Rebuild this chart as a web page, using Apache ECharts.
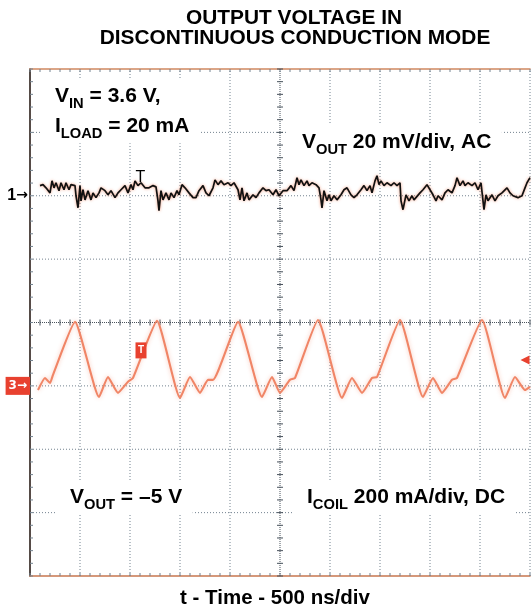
<!DOCTYPE html>
<html><head><meta charset="utf-8">
<script src="https://cdn.jsdelivr.net/npm/echarts/dist/echarts.min.js"></script>
<style>html,body{margin:0;padding:0;background:#fff}#c{width:531px;height:611px}</style>
</head><body><div id="c"></div>
<script>
// ---- data (time in ns, 500 ns/div) ----
const vOutTimeNs = [100,130,160,200,220,240,260,290,310,340,
360,390,410,450,460,480,500,510,530,550,
580,610,630,660,690,710,750,780,810,850,
880,910,950,980,1010,1030,1050,1080,1110,1150,
1190,1230,1260,1280,1290,1310,1330,1360,1390,1410,
1440,1470,1490,1520,1550,1590,1630,1660,1690,1730,
1760,1790,1830,1850,1880,1910,1940,1980,2010,2040,
2080,2100,2120,2140,2170,2190,2230,2260,2290,2330,
2360,2390,2430,2460,2490,2530,2570,2610,2640,2670,
2690,2710,2740,2770,2790,2820,2860,2890,2910,2920,
2940,2970,2990,3010,3040,3070,3110,3140,3170,3210,
3240,3270,3310,3340,3370,3400,3420,3450,3470,3490,
3510,3540,3570,3610,3640,3670,3700,3710,3730,3760,
3790,3820,3840,3900,3930,3970,4000,4030,4060,4080,
4120,4150,4180,4220,4250,4270,4300,4330,4350,4380,
4420,4450,4480,4510,4530,4540,4560,4580,4620,4650,
4680,4720,4770,4800,4830,4880,4920,4950,4970,5000];
// V_OUT, AC coupled, mV (20 mV/div)
const vOutMv = [3.2,3.5,2.5,0.9,4.7,2.5,4.1,1.6,4.1,1.9,
4.1,1.9,3.5,3.2,0,-3.8,3.2,-1.6,1.9,-1.3,
1.6,-1.3,0.9,-0.6,0.9,2.5,1.6,0.3,1.6,-0.6,
0.9,1.9,3.2,0.9,3.5,1.9,4.7,3.2,4.1,2.5,
2.5,3.2,2.8,-1.6,-4.7,1.6,-1.3,0.9,-1.3,0.9,
-0.6,1.6,0.3,3.5,2.5,0.9,-0.6,-0.6,1.6,3.2,
0.9,0,2.5,5.0,3.5,4.7,3.5,4.1,3.2,4.1,
1.9,-1.3,2.5,-1.6,0.9,-1.3,0.3,-0.6,0.9,2.5,
1.6,1.9,0.3,1.9,0,1.6,1.6,3.2,1.6,5.7,
3.5,5.0,3.2,4.7,3.2,4.1,3.5,2.5,-1.3,-3.8,
1.6,-1.6,0.3,-1.6,0,-1.3,0.3,1.9,2.5,0.3,
-0.6,0.3,1.9,3.2,1.6,3.2,0.9,4.7,6.3,3.5,
4.7,3.2,4.1,3.2,4.1,3.2,4.1,-1.6,-4.4,0.3,
-1.6,0,-1.3,0.9,1.9,3.5,1.9,0.3,-1.6,0,
-1.3,0.9,1.9,0.9,3.2,5.7,3.2,4.7,3.2,4.1,
3.2,4.1,1.9,4.1,-1.6,-4.4,0.3,-1.6,0.3,-1.6,
0,0.9,2.5,0.9,0,-0.6,0,2.5,4.1,5.7];
const iCoilTimeNs = [80,150,200,230,450,690,780,880,980,1030,
1270,1500,1600,1700,1780,1830,2080,2320,2420,2500,
2600,2650,2880,3120,3220,3320,3420,3470,3700,3930,
4030,4120,4220,4270,4520,4750,4850,4950,5000];
// I_COIL, DC coupled, mA (200 mA/div)
const iCoilMa = [-13,25,9,35,202,-35,28,-22,13,25,
205,-38,28,-22,19,19,202,-35,28,-22,
19,25,208,-38,25,-22,25,28,208,-35,
25,-22,19,25,208,-38,28,-13,-3];
const vOutAxis = {min: -120, max: 40, step: 20};
const iCoilAxis = {min: -600, max: 1000, step: 200};
const timeAxis = {min: 0, max: 5000, step: 500};
const divAxis = {min: -4, max: 4, step: 1};

const FONT = '"Liberation Sans", Arial, sans-serif';
const GRID_C = '#73828f';
const CENTER_C = '#47515b';
const RED = '#e8412f';

const vData = vOutTimeNs.map((t, i) => [t, vOutMv[i]]);
const iData = iCoilTimeNs.map((t, i) => [t, iCoilMa[i]]);

const chart = echarts.init(document.getElementById('c'), null, {renderer: 'canvas'});

function hiddenParts() {
  return {axisTick: {show: false}, minorTick: {show: false}, splitLine: {show: false}, minorSplitLine: {show: false}};
}

// graticule drawn through the axes' scales
function graticule(params, api) {
  const children = [];
  const line = (p1, p2, stroke, dash, w) => children.push({type: 'line', silent: true,
    shape: {x1: p1[0], y1: p1[1], x2: p2[0], y2: p2[1]},
    style: {stroke: stroke, lineWidth: w || 1, lineDash: dash || null}});
  const xMid = (timeAxis.min + timeAxis.max) / 2;
  const yMid = (divAxis.min + divAxis.max) / 2;
  for (let x = timeAxis.min + timeAxis.step; x < timeAxis.max + 1; x += timeAxis.step) {
    if (x === xMid) continue;
    line(api.coord([x, divAxis.min]), api.coord([x, divAxis.max]), GRID_C, [1, 2]);
  }
  for (let y = divAxis.min + divAxis.step; y < divAxis.max; y += divAxis.step) {
    if (y === yMid) continue;
    line(api.coord([timeAxis.min, y]), api.coord([timeAxis.max, y]), GRID_C, [1, 2]);
  }
  // centre cross
  line(api.coord([xMid, divAxis.min]), api.coord([xMid, divAxis.max]), CENTER_C, [1, 1]);
  line(api.coord([timeAxis.min, yMid]), api.coord([timeAxis.max, yMid]), CENTER_C, [1, 1]);
  // minor ticks (5 per division)
  const xm = timeAxis.step / 5, ym = divAxis.step / 5;
  for (let x = timeAxis.min; x <= timeAxis.max + 1e-6; x += xm) {
    const c = api.coord([x, yMid]);
    line([c[0], c[1] - 3], [c[0], c[1] + 3], CENTER_C);
    const t = api.coord([x, divAxis.max]);
    line([t[0], t[1]], [t[0], t[1] + 3], GRID_C);
    const b = api.coord([x, divAxis.min]);
    line([b[0], b[1] - 3], [b[0], b[1]], GRID_C);
  }
  for (let y = divAxis.min; y <= divAxis.max + 1e-6; y += ym) {
    const c = api.coord([xMid, y]);
    line([c[0] - 3, c[1]], [c[0] + 3, c[1]], CENTER_C);
    const l = api.coord([timeAxis.min, y]);
    line([l[0], l[1]], [l[0] + 3, l[1]], GRID_C);
  }
  return {type: 'group', children: children};
}

const option = {
  animation: false,
  backgroundColor: '#ffffff',
  grid: {left: 30, right: 1, top: 69, bottom: 35, containLabel: false},
  xAxis: [
    Object.assign({type: 'value', position: 'bottom', min: timeAxis.min, max: timeAxis.max, interval: timeAxis.step,
      axisLine: {show: true, onZero: false, lineStyle: {color: '#c8774f', width: 1.6}},
      axisLabel: {show: false}}, hiddenParts()),
    Object.assign({type: 'value', position: 'top', min: timeAxis.min, max: timeAxis.max, interval: timeAxis.step,
      axisLine: {show: true, onZero: false, lineStyle: {color: '#d08860', width: 1.6}},
      axisLabel: {show: false}}, hiddenParts())
  ],
  yAxis: [
    Object.assign({type: 'value', position: 'left', min: vOutAxis.min, max: vOutAxis.max, interval: vOutAxis.step,
      axisLine: {show: true, onZero: false, lineStyle: {color: '#2b1e18', width: 1.6}},
      axisLabel: {show: true, margin: 2,
        formatter: v => (Math.abs(v) < 1e-9 ? '{n|1}{a|\u2192}' : ''),
        rich: {
          n: {color: '#000', fontSize: 16, fontWeight: 'bold', fontFamily: FONT},
          a: {color: '#000', fontSize: 14, fontWeight: 'bold', fontFamily: '"DejaVu Sans", sans-serif'}
        }}}, hiddenParts()),
    Object.assign({type: 'value', position: 'left', min: iCoilAxis.min, max: iCoilAxis.max, interval: iCoilAxis.step,
      axisLine: {show: false},
      axisLabel: {show: true, margin: 0,
        formatter: v => (Math.abs(v) < 1e-9 ? '{b|3\u2192}' : ''),
        rich: {
          b: {color: '#fff', fontSize: 12, fontWeight: 'bold', fontFamily: '"DejaVu Sans", sans-serif',
            backgroundColor: RED, padding: [3, 3, 3, 3]}
        }}}, hiddenParts()),
    Object.assign({type: 'value', position: 'right', min: divAxis.min, max: divAxis.max, interval: divAxis.step,
      axisLine: {show: false}, axisLabel: {show: false}}, hiddenParts())
  ],
  series: [
    {name: 'graticule', type: 'custom', xAxisIndex: 0, yAxisIndex: 2, data: [0], renderItem: graticule,
      silent: true, clip: false, z: 1},
    {name: 'I_COIL', type: 'line', xAxisIndex: 0, yAxisIndex: 1, data: iData, showSymbol: false, smooth: 0.15,
      lineStyle: {color: '#f08566', width: 2.1, shadowColor: 'rgba(240,130,100,0.45)', shadowBlur: 4},
      z: 3,
      markPoint: {silent: true, data: [
        {coord: [1110, 112], symbol: 'rect', symbolSize: [11, 16], itemStyle: {color: RED},
          label: {show: true, position: 'inside', formatter: 'T', color: '#fff', fontSize: 10, fontWeight: 'bold'}},
        {coord: [4950, 82], symbol: 'triangle', symbolRotate: 90, symbolSize: 9, itemStyle: {color: RED},
          label: {show: false}}
      ]}},
    {name: 'V_OUT', type: 'line', xAxisIndex: 0, yAxisIndex: 0, data: vData, showSymbol: false,
      lineStyle: {color: '#111111', width: 1.7, shadowColor: 'rgba(235,120,80,0.75)', shadowBlur: 3},
      z: 4,
      markPoint: {silent: true, data: [
        {coord: [1105, 5.8], symbol: 'rect', symbolSize: 1, itemStyle: {color: 'rgba(0,0,0,0)'},
          label: {show: true, position: 'inside', formatter: 'T', color: '#000', fontSize: 16, fontFamily: FONT}}
      ]}}
  ],
  graphic: [
    {type: 'text', x: 294, y: 18.5, scaleX: 1.07, z: 10,
      style: {text: 'OUTPUT VOLTAGE IN', font: 'bold 19.5px ' + FONT, align: 'center', verticalAlign: 'middle', fill: '#000'}},
    {type: 'text', x: 295, y: 38.7, scaleX: 1.07, z: 10,
      style: {text: 'DISCONTINUOUS CONDUCTION MODE', font: 'bold 19.5px ' + FONT, align: 'center', verticalAlign: 'middle', fill: '#000'}},
    {type: 'text', x: 275, y: 598, z: 10,
      style: {text: 't - Time - 500 ns/div', font: 'bold 20.5px ' + FONT, align: 'center', verticalAlign: 'middle', fill: '#000'}}
  ]
};

function annot(x, y, text) {
  return {type: 'text', x: x, y: y, scaleX: 1.05, z: 20,
    style: {text: text, fill: '#000', backgroundColor: '#fff', padding: [2, 10, 2, 14],
      rich: {
        m: {fontSize: 20, fontWeight: 'bold', fontFamily: FONT, lineHeight: 30, fill: '#000'},
        s: {fontSize: 14, fontWeight: 'bold', fontFamily: FONT, lineHeight: 12, verticalAlign: 'bottom', fill: '#000'}
      }}};
}
option.graphic.push(
  annot(55 - 14 * 1.05, 79.3, '{m|V}{s|IN}{m| = 3.6 V,}\n{m|I}{s|LOAD}{m| = 20 mA}'),
  annot(302 - 14 * 1.05, 125, '{m|V}{s|OUT}{m| 20 mV/div, AC}'),
  annot(70 - 14 * 1.05, 480, '{m|V}{s|OUT}{m| = \u20135 V}'),
  annot(307 - 14 * 1.05, 480, '{m|I}{s|COIL}{m| 200 mA/div, DC}')
);

chart.setOption(option);
</script>
</body></html>
